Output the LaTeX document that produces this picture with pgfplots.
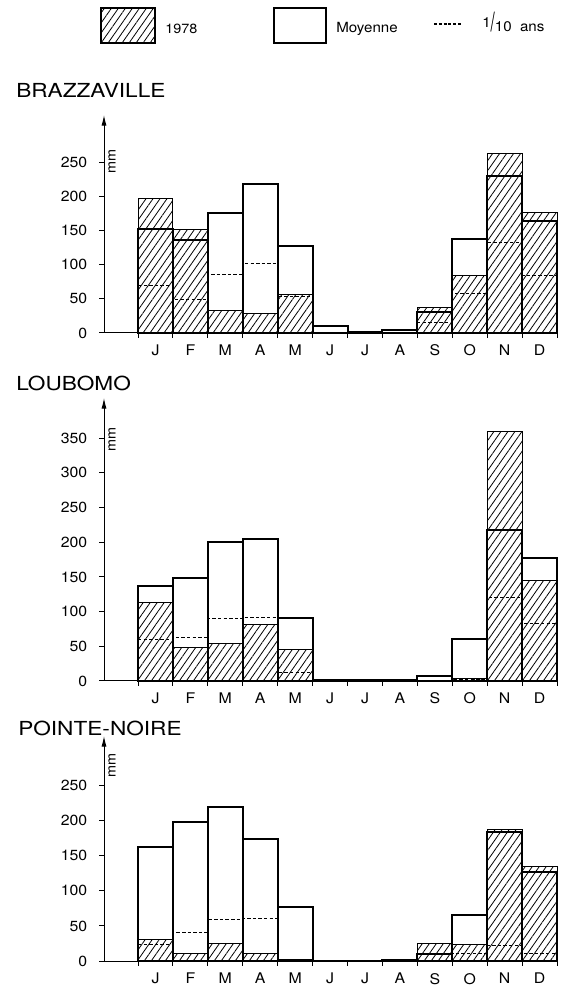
\documentclass[border=0pt]{standalone}
\usepackage{pgfplots}
\pgfplotsset{compat=1.18}
\usepackage{fontspec}
\setmainfont{TeX Gyre Heros}[FakeStretch=1.08]
\newfontfamily\titlefont{TeX Gyre Heros}[FakeStretch=1.17]
\usepackage{graphicx}
\usetikzlibrary{patterns.meta,arrows.meta}

\tikzset{hatch/.style={pattern={Lines[angle=55,distance=4.3pt,line width=0.6pt]}}}

\pgfplotsset{
  rain/.style={
    scale only axis, width=339.75pt,
    xmin=-0.974, xmax=12, ymin=0,
    axis x line=bottom, axis y line=left,
    axis line style={line width=0.75pt},
    x axis line style={-},
    y axis line style={-{Latex[length=8pt,width=3.8pt]}},
    xtick={0,...,12}, xticklabels={},
    extra x ticks={0.5,1.5,...,11.5},
    extra x tick labels={J,F,M,A,M,J,J,A,S,O,N,D},
    extra x tick style={tick style={draw=none}, xticklabel style={yshift=-2pt}},
    tick align=outside, major tick length=3.5pt,
    tick style={black, line width=0.75pt},
    yticklabel style={xshift=-5.5pt},
    tick label style={font=\fontsize{11}{13}\selectfont},
    /pgf/number format/assume math mode=true,
    clip=false,
    anchor=south west,
  },
  mean/.style={ybar interval, draw=black, line width=1.5pt, fill=none},
  yr/.style={ybar interval, draw=black, line width=0.75pt, hatch},
  dec/.style={const plot, dashed, dash pattern=on 2.6pt off 1.6pt, line width=0.75pt, black},
}

\begin{document}
\begin{tikzpicture}
\path[use as bounding box] (0,0) rectangle (422.25pt,740.25pt);
\begin{scope}[x=0.75pt,y=-0.75pt,yshift=740.25pt]
  % legend
  \draw[line width=1.2pt,hatch] (101,8) rectangle (155,43);
  \node[anchor=west,font=\fontsize{10}{12}\selectfont,inner sep=0pt] at (165,29) {1978};
  \draw[line width=1.5pt] (274,8) rectangle (326,43);
  \node[anchor=west,font=\fontsize{10.5}{12}\selectfont,inner sep=0pt] at (336,29) {Moyenne};
  \draw[dashed, dash pattern=on 2.2pt off 1.4pt, line width=0.8pt] (434,24) -- (461,24);
  \node[anchor=west,font=\fontsize{10.5}{12}\selectfont,inner sep=0pt] at (482,22) {\raisebox{3pt}{1}\scalebox{1}[1.9]{/}10\hspace{0.6em}ans};
  % titles
  \node[anchor=west,font=\titlefont\fontsize{14.5}{16}\selectfont,inner sep=0pt] at (16,90) {BRAZZAVILLE};
  \node[anchor=west,font=\titlefont\fontsize{14.5}{16}\selectfont,inner sep=0pt] at (16,383) {LOUBOMO};
  \node[anchor=west,font=\titlefont\fontsize{14.5}{16}\selectfont,inner sep=0pt] at (18,728) {POINTE-NOIRE};
  \coordinate (A1) at (104,333);
  \coordinate (A2) at (104,681);
  \coordinate (A3) at (104,961);
\end{scope}

% BRAZZAVILLE
\begin{axis}[rain, at={(A1)}, height=163.5pt, ymax=319, ytick={0,50,...,250}]
\addplot[yr] coordinates {(0,197)(1,152)(2,33)(3,29)(4,57)(5,0)(6,1)(7,0)(8,38)(9,84)(10,262)(11,177)(12,177)};
\addplot[mean] coordinates {(0,152)(1,136)(2,176)(3,218)(4,128)(5,10)(6,2)(7,4)(8,30)(9,138)(10,229)(11,164)(12,164)};
\addplot[dec] coordinates {(0,69)(1,49)(2,86)(3,102)(4,53)(5,0)(6,0)(7,0)(8,15)(9,58)(10,133)(11,84)(12,84)};
\node[rotate=90,font=\fontsize{10}{11}\selectfont,inner sep=0pt] at (axis cs:-0.745,251) {mm};
\end{axis}

% LOUBOMO
\begin{axis}[rain, at={(A2)}, height=212.25pt, ymax=408, ytick={0,50,...,350}]
\addplot[yr] coordinates {(0,113)(1,49)(2,54)(3,82)(4,46)(5,0)(6,0)(7,0)(8,0)(9,3)(10,360)(11,145)(12,145)};
\addplot[mean] coordinates {(0,137)(1,149)(2,200)(3,204)(4,91)(5,2)(6,1)(7,1)(8,7)(9,61)(10,217)(11,178)(12,178)};
\addplot[dec] coordinates {(0,60)(1,62)(2,90)(3,92)(4,12)(5,0)(6,0)(7,0)(8,0)(9,2)(10,121)(11,83)(12,83)};
\node[rotate=90,font=\fontsize{10}{11}\selectfont,inner sep=0pt] at (axis cs:-0.745,348) {mm};
\end{axis}

% POINTE-NOIRE
\begin{axis}[rain, at={(A3)}, height=168.75pt, ymax=321, ytick={0,50,...,250}]
\addplot[yr] coordinates {(0,31)(1,10)(2,25)(3,10)(4,2)(5,0)(6,0)(7,0)(8,25)(9,23)(10,188)(11,135)(12,135)};
\addplot[mean] coordinates {(0,162)(1,198)(2,219)(3,174)(4,77)(5,0.5)(6,0.5)(7,1.5)(8,10)(9,66)(10,184)(11,127)(12,127)};
\addplot[dec] coordinates {(0,24)(1,41)(2,59)(3,60)(4,0)(5,0)(6,0)(7,0)(8,0)(9,10)(10,22)(11,11)(12,11)};
\node[rotate=90,font=\fontsize{10}{11}\selectfont,inner sep=0pt] at (axis cs:-0.745,279) {mm};
\end{axis}
\end{tikzpicture}
\end{document}
